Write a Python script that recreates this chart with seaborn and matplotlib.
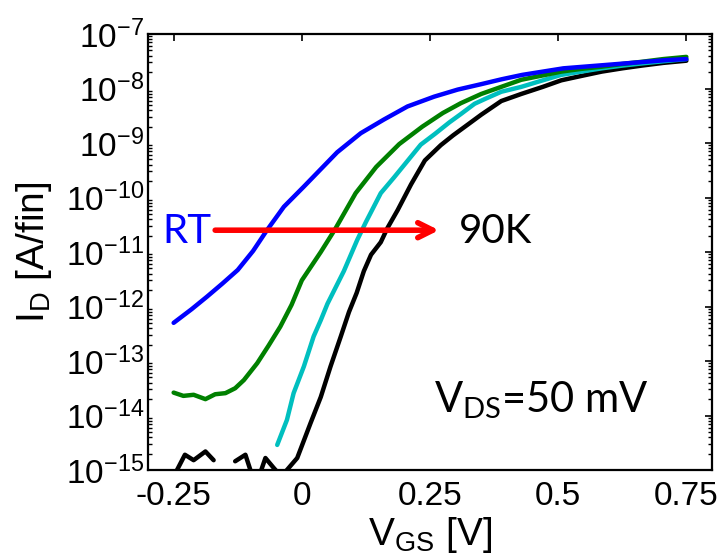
import numpy as np
import pandas as pd
import matplotlib
matplotlib.use("Agg")
import matplotlib.pyplot as plt
import matplotlib.ticker as mticker
import seaborn as sns

# ---- data: V_GS [V], log10(I_D [A/fin]) ----
v_rt = [-0.25, -0.215, -0.185, -0.155, -0.125, -0.095, -0.068, -0.035, 0.004, 0.037, 0.069, 0.115, 0.16,
        0.206, 0.258, 0.304, 0.35, 0.39, 0.43, 0.47, 0.51, 0.55, 0.59, 0.63, 0.67, 0.71, 0.75]
log_rt = [-12.30, -12.05, -11.82, -11.58, -11.33, -10.98, -10.60, -10.17, -9.80, -9.48, -9.17, -8.82, -8.57,
          -8.33, -8.15, -8.02, -7.92, -7.83, -7.75, -7.69, -7.63, -7.60, -7.57, -7.54, -7.51, -7.48, -7.46]

v_t2 = [-0.25, -0.231, -0.211, -0.188, -0.169, -0.149, -0.13, -0.113, -0.087, -0.065, -0.042, -0.02, 0.0,
        0.037, 0.065, 0.105, 0.145, 0.19, 0.235, 0.275, 0.31, 0.35, 0.389, 0.428, 0.47, 0.506, 0.545, 0.585,
        0.625, 0.663, 0.705, 0.75]
log_t2 = [-13.58, -13.64, -13.62, -13.70, -13.61, -13.59, -13.50, -13.35, -13.04, -12.72, -12.37, -11.97, -11.52,
          -11.0, -10.58, -9.92, -9.44, -9.02, -8.70, -8.45, -8.27, -8.10, -7.97, -7.84, -7.76, -7.69, -7.64, -7.60,
          -7.55, -7.51, -7.46, -7.42]

v_t3 = [-0.048, -0.029, -0.016, 0.004, 0.023, 0.037, 0.05, 0.082, 0.108, 0.125, 0.154, 0.18, 0.206, 0.232,
        0.26, 0.288, 0.31, 0.337, 0.36, 0.389, 0.428, 0.47, 0.506, 0.545, 0.585, 0.625, 0.663, 0.705, 0.75]
log_t3 = [-14.54, -14.08, -13.59, -13.10, -12.55, -12.25, -11.95, -11.35, -10.78, -10.45, -9.92, -9.63, -9.33, -9.03,
          -8.83, -8.62, -8.47, -8.28, -8.18, -8.06, -7.97, -7.85, -7.75, -7.69, -7.63, -7.58, -7.54, -7.50, -7.46]

# 90K: noisy floor; a break where the reading is missing (non-positive current)
v_90k_seg1 = [-0.25, -0.228, -0.211, -0.188, -0.172]
log_90k_seg1 = [-15.12, -14.72, -14.82, -14.66, -14.82]
v_90k_seg2 = [-0.13, -0.11, -0.09, -0.071, -0.055, -0.04, -0.009, 0.017, 0.037, 0.056, 0.076, 0.092, 0.107,
              0.121, 0.135, 0.154, 0.167, 0.187, 0.213, 0.24, 0.271, 0.295, 0.324, 0.35, 0.389, 0.428, 0.47,
              0.506, 0.545, 0.585, 0.625, 0.663, 0.705, 0.75]
log_90k_seg2 = [-14.84, -14.72, -15.3, -14.78, -14.96, -15.12, -14.78, -14.14, -13.66, -13.10, -12.55, -12.10, -11.75,
                -11.35, -11.05, -10.82, -10.56, -10.23, -9.76, -9.32, -9.04, -8.86, -8.66, -8.48, -8.23, -8.10, -7.97,
                -7.85, -7.77, -7.69, -7.63, -7.58, -7.53, -7.49]

x_ticks = [-0.25, 0, 0.25, 0.5, 0.75]
x_tick_labels = ["-0.25", "0", "0.25", "0.5", "0.75"]
y_decades = list(range(-15, -6))

series_order = ["90K", "T3", "T2", "RT"]
palette = {"RT": "#0000ff", "T2": "#008000", "T3": "#00bfbf", "90K": "#000000"}

frames = []
def add(name, seg, v, lg):
    frames.append(pd.DataFrame({"V": v, "I": 10.0 ** np.array(lg), "T": name, "seg": f"{name}_{seg}"}))

add("90K", 1, v_90k_seg1, log_90k_seg1)
add("90K", 2, v_90k_seg2, log_90k_seg2)
add("T3", 1, v_t3, log_t3)
add("T2", 1, v_t2, log_t2)
add("RT", 1, v_rt, log_rt)
df = pd.concat(frames, ignore_index=True)

sns.set_theme(style="white")
plt.rcParams["font.family"] = ["Liberation Sans", "DejaVu Sans"]
plt.rcParams["mathtext.fontset"] = "custom"
plt.rcParams["mathtext.rm"] = "Liberation Sans"
plt.rcParams["mathtext.it"] = "Liberation Sans"
plt.rcParams["mathtext.sf"] = "Lato"
for k in ["text.color", "axes.labelcolor", "xtick.color", "ytick.color", "axes.edgecolor"]:
    plt.rcParams[k] = "black"

fig = plt.figure(figsize=(7.21, 5.60), dpi=100)
ax = fig.add_axes([148 / 721, 1 - 470 / 560, (712 - 148) / 721, (470 - 34) / 560])

sns.lineplot(data=df, x="V", y="I", hue="T", units="seg", estimator=None, sort=False,
             hue_order=series_order, palette=palette, linewidth=3.2, legend=False, ax=ax)

ax.set_yscale("log")
ax.set_xlim(-0.3, 0.8)
ax.set_ylim(1e-15, 1e-7)

ax.set_xticks(x_ticks)
ax.set_xticklabels(x_tick_labels)
ax.yaxis.set_major_locator(mticker.FixedLocator([10.0 ** d for d in y_decades]))
ax.yaxis.set_major_formatter(mticker.FuncFormatter(lambda v, p: r"$\mathregular{10^{%d}}$" % round(np.log10(v))))
ax.yaxis.set_minor_locator(mticker.LogLocator(base=10, subs=np.arange(2, 10), numticks=50))
ax.yaxis.set_minor_formatter(mticker.NullFormatter())

ax.tick_params(axis="both", which="major", direction="in", length=5, width=1.2,
               labelsize=24, top=True, right=True, colors="black")
ax.tick_params(axis="y", which="minor", direction="in", length=3, width=1.0, left=True, right=True)
ax.tick_params(axis="x", pad=8)
ax.tick_params(axis="y", pad=3)

for s in ax.spines.values():
    s.set_color("black")
    s.set_linewidth(1.6)

ax.set_xlabel(r"$\mathregular{V_{GS}}$ [V]", fontsize=28, labelpad=2, color="black")
ax.set_ylabel(r"$\mathregular{I_D}$ [A/fin]", fontsize=28, labelpad=8, color="black")

# annotation arrow RT -> 90K
ax.annotate("", xy=(0.2675, 10 ** -10.60), xytext=(-0.169, 10 ** -10.60),
            arrowprops=dict(arrowstyle="->,head_length=0.9,head_width=0.45", color="red", lw=4.0,
                            shrinkA=0, shrinkB=0))
ax.text(-0.272, 10 ** -10.83, "RT", color="#0000ff", fontsize=29, family=["Lato", "DejaVu Sans"],
        ha="left", va="baseline")
ax.text(0.307, 10 ** -10.83, "90K", color="black", fontsize=29, family=["Lato", "DejaVu Sans"],
        ha="left", va="baseline")
ax.text(0.258, 10 ** -13.95, r"$\mathsf{V_{DS}}$=50 mV", color="black", fontsize=30,
        family=["Lato", "DejaVu Sans"], ha="left", va="baseline")

fig.savefig("out.png", dpi=100)
